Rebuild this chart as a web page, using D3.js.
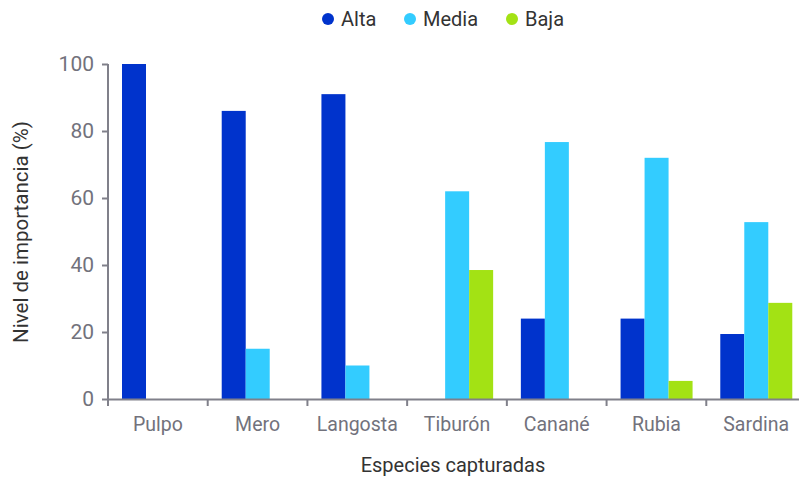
<!DOCTYPE html>
<html>
<head>
<meta charset="utf-8">
<script src="https://cdn.jsdelivr.net/npm/d3@7"></script>
<style>
  body { margin: 0; background: #fff; }
  text { font-family: "Roboto", "Noto Sans", sans-serif; }
</style>
</head>
<body>
<div id="chart"></div>
<script>
var especies = ["Pulpo", "Mero", "Langosta", "Tiburón", "Canané", "Rubia", "Sardina"];
var niveles = ["Alta", "Media", "Baja"];
var alta = [100, 86, 91, 0, 24, 24, 19.4];
var media = [0, 15, 10, 62, 76.7, 72, 52.8];
var baja = [0, 0, 0, 38.5, 0, 5.4, 28.7];
var yTicks = [0, 20, 40, 60, 80, 100];
var colores = ["#0033cc", "#33ccff", "#a3e214"];

var series = [alta, media, baja];
var data = especies.map(function (e, i) {
    return { especie: e, valores: niveles.map(function (n, j) { return { nivel: n, v: series[j][i] }; }) };
});

var W = 799, H = 479;
var plotBottom = 399;

var svg = d3.select("#chart").append("svg")
    .attr("width", W)
    .attr("height", H);

var x0 = d3.scaleBand().domain(especies).range([108, 806]).padding(0);
var x1 = d3.scaleBand().domain(niveles).range([14, 86]).padding(0);
var y = d3.scaleLinear().domain([0, 100]).range([plotBottom, 64]);

var gris = "#80808a";

// barras
svg.append("g")
    .selectAll("g")
    .data(data)
    .enter()
    .append("g")
    .attr("transform", function (d) { return "translate(" + x0(d.especie) + ",0)"; })
    .selectAll("rect")
    .data(function (d) { return d.valores.filter(function (v) { return v.v > 0; }); })
    .enter()
    .append("rect")
    .attr("x", function (d) { return x1(d.nivel); })
    .attr("width", x1.bandwidth())
    .attr("y", function (d) { return y(d.v); })
    .attr("height", function (d) { return plotBottom - y(d.v); })
    .style("fill", function (d) { return colores[niveles.indexOf(d.nivel)]; });

// eje y
var yAxis = svg.append("g")
    .attr("transform", "translate(108,0)")
    .call(d3.axisLeft(y).tickValues(yTicks).tickSize(6).tickPadding(8));
yAxis.select(".domain").attr("stroke", gris).attr("stroke-width", 2).attr("d", "M0,64V399");
yAxis.selectAll(".tick line").attr("stroke", gris).attr("stroke-width", 2);
yAxis.selectAll(".tick text").attr("fill", "#72727c").style("font-size", "21px");

// eje x
var xAxis = svg.append("g")
    .attr("transform", "translate(0," + plotBottom + ")")
    .call(d3.axisBottom(x0).tickSize(0).tickPadding(18));
xAxis.select(".domain").attr("stroke", gris).attr("stroke-width", 2);
xAxis.selectAll(".tick text").attr("fill", "#72727c").style("font-size", "19.5px");
xAxis.selectAll(".edge")
    .data(especies.concat(["_fin"]))
    .enter()
    .append("line")
    .attr("x1", function (d, i) { return 108 + i * x0.bandwidth(); })
    .attr("x2", function (d, i) { return 108 + i * x0.bandwidth(); })
    .attr("y1", 0)
    .attr("y2", 7)
    .attr("stroke", gris)
    .attr("stroke-width", 2);

// títulos
svg.append("text")
    .attr("x", 453)
    .attr("y", 472)
    .attr("text-anchor", "middle")
    .style("font-size", "20px")
    .attr("fill", "#333")
    .text("Especies capturadas");

svg.append("text")
    .attr("transform", "translate(28,232) rotate(-90)")
    .attr("text-anchor", "middle")
    .style("font-size", "20.5px")
    .attr("fill", "#333")
    .text("Nivel de importancia (%)");

// leyenda
var legX = [328, 410, 512];
var leyenda = svg.append("g")
    .selectAll("g")
    .data(niveles)
    .enter()
    .append("g")
    .attr("transform", function (d, i) { return "translate(" + legX[i] + ",19)"; });
leyenda.append("circle")
    .attr("r", 6)
    .style("fill", function (d, i) { return colores[i]; });
leyenda.append("text")
    .attr("x", 13)
    .attr("y", 7)
    .style("font-size", "20px")
    .attr("fill", "#333")
    .text(function (d) { return d; });
</script>
</body>
</html>
